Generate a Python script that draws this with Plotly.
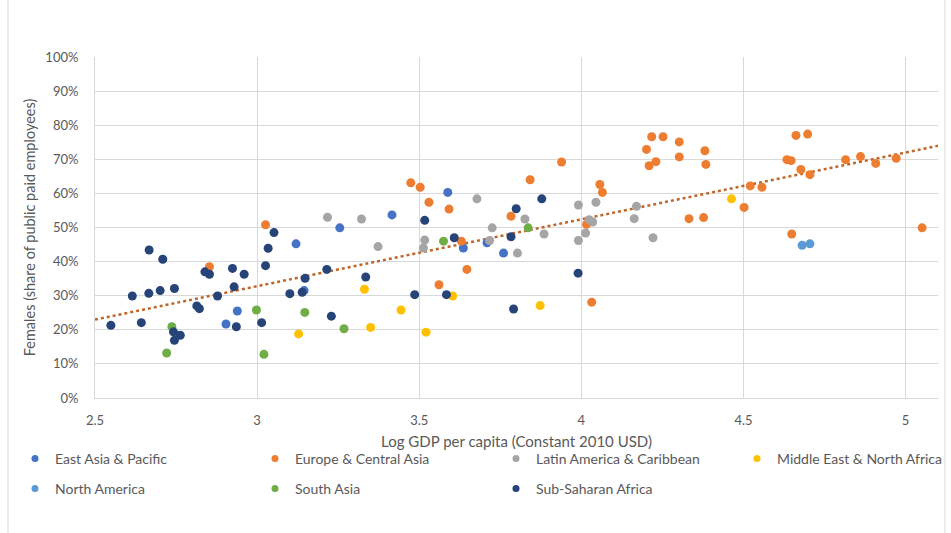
import numpy as np
import plotly.graph_objects as go

# Log GDP per capita (x) and female share of public paid employees in % (y), by region
eap_x = [2.939, 2.904, 3.120, 3.145, 3.255, 3.416, 3.588, 3.636, 3.709, 3.760]
eap_y = [25.5, 21.7, 45.2, 31.5, 49.9, 53.7, 60.3, 44.0, 45.5, 42.5]

eca_x = [2.853, 3.026, 3.474, 3.503, 3.530, 3.592, 3.630, 3.647, 3.561, 3.783, 3.842,
         3.939, 4.016, 4.032, 4.057, 4.065, 4.201, 4.209, 4.217, 4.230, 4.252, 4.302,
         4.302, 4.332, 4.377, 4.381, 4.384, 4.502, 4.521, 4.557, 4.634, 4.647, 4.649,
         4.662, 4.677, 4.698, 4.705, 4.815, 4.861, 4.908, 4.971, 5.051]
eca_y = [38.5, 50.8, 63.1, 61.8, 57.4, 55.4, 46.0, 37.7, 33.2, 53.3, 64.0,
         69.2, 50.9, 28.1, 62.6, 60.3, 72.9, 68.1, 76.6, 69.3, 76.6, 75.1,
         70.7, 52.6, 52.9, 72.5, 68.5, 55.9, 62.2, 61.8, 69.9, 69.6, 48.1,
         77.0, 67.0, 77.4, 65.5, 69.9, 70.8, 68.8, 70.3, 49.9]

lac_x = [3.217, 3.322, 3.373, 3.513, 3.517, 3.678, 3.717, 3.725, 3.803, 3.826,
         3.885, 3.991, 3.991, 4.013, 4.024, 4.035, 4.045, 4.163, 4.170, 4.221]
lac_y = [53.0, 52.5, 44.4, 44.0, 46.3, 58.4, 46.2, 49.9, 42.5, 52.5,
         48.1, 56.6, 46.2, 48.4, 52.3, 51.6, 57.4, 52.6, 56.2, 47.0]

mena_x = [3.128, 3.331, 3.350, 3.444, 3.521, 3.603, 3.873, 4.463]
mena_y = [18.8, 31.9, 20.7, 25.8, 19.3, 29.9, 27.1, 58.4]

na_x = [4.681, 4.705]
na_y = [44.8, 45.2]

sa_x = [2.721, 2.737, 2.998, 3.021, 3.147, 3.268, 3.575, 3.836]
sa_y = [13.2, 20.9, 25.8, 12.8, 25.1, 20.3, 46.0, 49.9]

ssa_x = [2.549, 2.615, 2.643, 2.666, 2.667, 2.701, 2.709, 2.742, 2.745, 2.745,
         2.763, 2.814, 2.822, 2.839, 2.853, 2.878, 2.924, 2.929, 2.936, 2.960,
         3.014, 3.026, 3.034, 3.052, 3.101, 3.139, 3.148, 3.215, 3.229, 3.335,
         3.486, 3.517, 3.584, 3.608, 3.783, 3.791, 3.799, 3.878, 3.990]
ssa_y = [21.3, 29.9, 22.1, 30.7, 43.4, 31.5, 40.7, 19.4, 32.1, 16.9,
         18.4, 27.0, 26.2, 37.0, 36.3, 29.9, 38.0, 32.6, 20.9, 36.3,
         22.1, 38.8, 43.9, 48.5, 30.6, 31.0, 35.1, 37.7, 24.0, 35.5,
         30.3, 52.1, 30.3, 47.0, 47.3, 26.1, 55.5, 58.4, 36.6]

region_names = ["East Asia & Pacific", "Europe & Central Asia", "Latin America & Caribbean",
                "Middle East & North Africa", "North America", "South Asia", "Sub-Saharan Africa"]
region_x = [eap_x, eca_x, lac_x, mena_x, na_x, sa_x, ssa_x]
region_y = [eap_y, eca_y, lac_y, mena_y, na_y, sa_y, ssa_y]
region_colors = ["#4472C4", "#ED7D31", "#A5A5A5", "#FFC000", "#5B9BD5", "#70AD47", "#264478"]

x_ticks = [2.5, 3, 3.5, 4, 4.5, 5]
x_tick_text = ["2.5", "3", "3.5", "4", "4.5", "5"]
x_range = [2.5, 5.1]

FONT = "Lato"
TXT = "#595959"

# Plot-area geometry in pixels (used to place legends and frame in paper units)
W, H = 951, 533
ML, MR, MT, MB = 95, 13, 57, 135
PW, PH = W - ML - MR, H - MT - MB


def px_x(px):
    return (px - ML) / PW


def px_y(py):
    return (H - MB - py) / PH


fig = go.Figure()

# Linear trend over all countries
all_x = np.concatenate([np.array(v) for v in region_x])
all_y = np.concatenate([np.array(v) for v in region_y])
slope, intercept = np.polyfit(all_x, all_y, 1)
trend_x = np.array(x_range)
fig.add_trace(go.Scatter(
    x=trend_x, y=slope * trend_x + intercept, mode="lines",
    line=dict(color="#C0652A", width=2.5, dash="dot"),
    showlegend=False, hoverinfo="skip",
))

# Country points per region
for name, xs, ys, col in zip(region_names, region_x, region_y, region_colors):
    fig.add_trace(go.Scatter(
        x=xs, y=ys, mode="markers", name=name, legendgroup=name,
        marker=dict(color=col, size=9, line=dict(width=0)),
        showlegend=False,
    ))

# Legend: four columns, two rows, one small legend box per entry
col_left = [15, 255, 496, 737]
row_mid = [459, 489]
legend_layout = {}
for i, (name, col) in enumerate(zip(region_names, region_colors)):
    key = "legend" if i == 0 else f"legend{i + 1}"
    fig.add_trace(go.Scatter(
        x=[None], y=[None], mode="markers", name=name, legendgroup=name,
        marker=dict(color=col, size=7), legend=key,
    ))
    legend_layout[key] = dict(
        x=px_x(col_left[i % 4]), y=px_y(row_mid[i // 4]),
        xanchor="left", yanchor="middle", orientation="h",
        font=dict(family=FONT, size=14, color=TXT),
        itemwidth=30, bgcolor="rgba(0,0,0,0)",
    )

fig.update_layout(
    width=W, height=H,
    margin=dict(l=ML, r=MR, t=MT, b=MB, autoexpand=False),
    paper_bgcolor="white", plot_bgcolor="white",
    font=dict(family=FONT, color=TXT),
    xaxis=dict(
        range=x_range, tickvals=x_ticks, ticktext=x_tick_text,
        showgrid=True, gridcolor="#D9D9D9", gridwidth=1,
        zeroline=False, showline=True, linecolor="#D9D9D9", linewidth=1,
        ticks="", ticklabelstandoff=10,
        tickfont=dict(family=FONT, size=13, color=TXT),
        title=dict(text="Log GDP per capita (Constant 2010 USD)",
                   font=dict(family=FONT, size=15, color=TXT), standoff=9),
    ),
    yaxis=dict(
        range=[0, 100], dtick=10, ticksuffix="%",
        showgrid=True, gridcolor="#D9D9D9", gridwidth=1,
        zeroline=False, showline=True, linecolor="#D9D9D9", linewidth=1,
        ticks="", ticklabelstandoff=13,
        tickfont=dict(family=FONT, size=13, color=TXT),
        title=dict(text="Females (share of public paid employees)",
                   font=dict(family=FONT, size=14.5, color=TXT), standoff=6),
    ),
    **legend_layout,
)

# Chart frame edges
for xp in [px_x(8), px_x(945)]:
    fig.add_shape(type="line", xref="paper", yref="paper",
                  x0=xp, x1=xp, y0=px_y(H + 5), y1=px_y(-5),
                  line=dict(color="#D9D9D9", width=1))

fig.write_html("out.html")
